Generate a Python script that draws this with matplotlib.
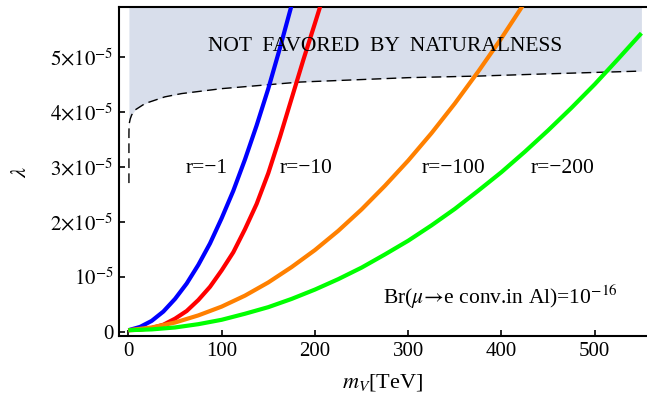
import matplotlib
matplotlib.use("Agg")
import matplotlib.pyplot as plt
import numpy as np

plt.rcParams["font.family"] = ["Liberation Serif", "DejaVu Serif"]
plt.rcParams["mathtext.fontset"] = "stix"

# lambda values in units of 1e-5
m_r1 = [0, 12.5, 25, 37.5, 50, 62.5, 75, 87.5, 100, 112.5, 125, 137.5, 150, 162.5, 175, 177.5]
lam_r1 = [0.03, 0.09, 0.20, 0.37, 0.60, 0.88, 1.22, 1.61, 2.07, 2.57, 3.14, 3.76, 4.43, 5.17, 5.95, 6.12]

m_r10 = [0, 12.5, 25, 37.5, 50, 62.5, 75, 87.5, 100, 112.5, 125, 137.5, 150, 162.5, 175, 187.5,
         200, 212.5]
lam_r10 = [0.03, 0.04, 0.07, 0.13, 0.24, 0.38, 0.58, 0.82, 1.12, 1.45, 1.87, 2.33, 2.89, 3.55,
           4.25, 4.95, 5.62, 6.3]

m_r100 = [0, 25, 50, 75, 100, 125, 150, 175, 200, 225, 250, 275, 300, 325, 350, 375, 400, 425]
lam_r100 = [0.03, 0.08, 0.17, 0.30, 0.46, 0.66, 0.90, 1.18, 1.49, 1.84, 2.23, 2.66, 3.12, 3.62,
            4.16, 4.74, 5.35, 6.0]

m_r200 = [0, 25, 50, 75, 100, 125, 150, 175, 200, 225, 250, 275, 300, 325, 350, 375, 400,
          425, 450, 475, 500, 525, 550]
lam_r200 = [0.03, 0.045, 0.08, 0.14, 0.22, 0.33, 0.45, 0.60, 0.77, 0.96, 1.17, 1.41, 1.66, 1.94,
            2.24, 2.57, 2.91, 3.28, 3.67, 4.08, 4.51, 4.97, 5.44]

# naturalness bound (dashed)
m_nat = [0.6, 0.6, 0.7, 1.0, 2, 3.5, 7, 18, 39, 57, 100, 184, 300, 377, 450, 550]
lam_nat = [2.71, 3.6, 3.72, 3.8, 3.88, 3.95, 4.04, 4.16, 4.28, 4.34, 4.43, 4.55, 4.63, 4.66,
           4.70, 4.75]

curve_labels = ["r=\u22121", "r=\u221210", "r=\u2212100", "r=\u2212200"]
label_x = [84, 190, 349, 465]
label_y = [2.98, 2.98, 2.98, 2.98]

scale = 1e-5
y_ticks = [0, 1, 2, 3, 4, 5]
y_ticklabels = ["0", r"$10^{-5}$", r"$2{\times}10^{-5}$", r"$3{\times}10^{-5}$",
                r"$4{\times}10^{-5}$", r"$5{\times}10^{-5}$"]
x_ticks = [0, 100, 200, 300, 400, 500]

fig = plt.figure(figsize=(6.47, 3.95), dpi=100)
ax = fig.add_axes([0.184, 0.149, 0.816, 0.833])

top = 5.915
m_nat_a = np.array(m_nat)
lam_nat_a = np.array(lam_nat) * scale
ax.fill_between(m_nat_a, lam_nat_a, top * scale, color="#d8deeb", lw=0, zorder=1)
ax.plot(m_nat_a, lam_nat_a, color="black", lw=1.0, ls=(0, (7, 3.8)), zorder=2)

series = [(m_r1, lam_r1, "#0000ff"), (m_r10, lam_r10, "#ff0000"),
          (m_r100, lam_r100, "#ff8000"), (m_r200, lam_r200, "#00ff00")]
for mm, ll, c in series:
    ax.plot(mm, np.array(ll) * scale, color=c, lw=3.0, solid_capstyle="butt", zorder=3)

for txt, xx, yy in zip(curve_labels, label_x, label_y):
    ax.text(xx, yy * scale, txt, fontsize=15.5, ha="center", va="center", zorder=4)

ax.text(275, 5.2 * scale, "NOT  FAVORED  BY  NATURALNESS", fontsize=15.5,
        ha="center", va="center", zorder=4)
ax.text(399, 0.63 * scale, r"Br($\mu\!\rightarrow\!$e conv.in Al)=10$^{-16}$",
        fontsize=15.5, ha="center", va="center", zorder=4)

ax.set_xlim(-10, 556)
ax.set_ylim(-0.078 * scale, top * scale)
ax.set_xticks(x_ticks)
ax.set_yticks([v * scale for v in y_ticks])
ax.set_yticklabels(y_ticklabels)
ax.tick_params(direction="in", length=4.5, width=1.2, labelsize=15, pad=4)
ax.spines["right"].set_visible(False)
for s in ["left", "bottom", "top"]:
    ax.spines[s].set_linewidth(1.5)

ax.set_xlabel(r"$m_V$[TeV]", fontsize=16, labelpad=8)
ax.set_ylabel(r"$\lambda$", fontsize=16, labelpad=14)

fig.savefig("out.png", dpi=100)
